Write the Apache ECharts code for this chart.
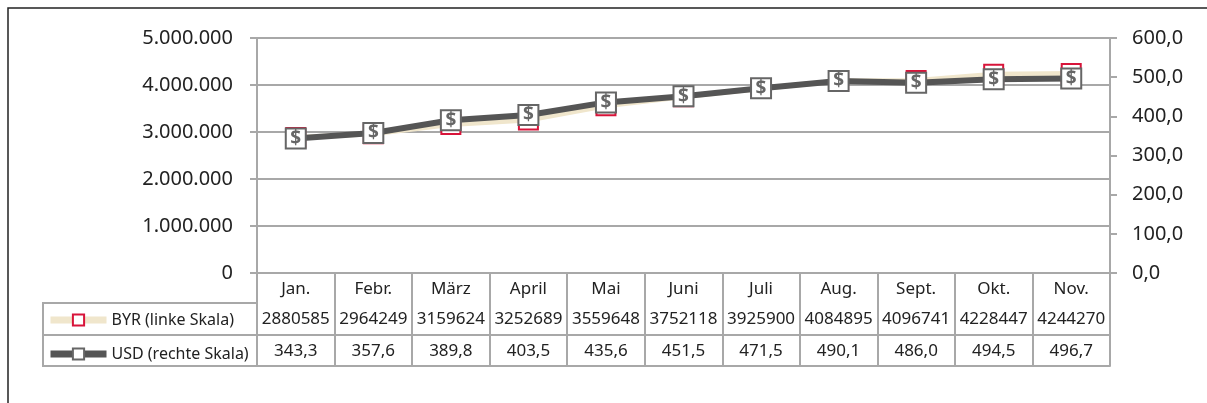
<!DOCTYPE html>
<html>
<head>
<meta charset="utf-8">
<script src="https://cdn.jsdelivr.net/npm/echarts@6/dist/echarts.min.js"></script>
<style>
  html, body { margin: 0; padding: 0; background: #fff; }
  #chart { width: 1207px; height: 403px; }
</style>
</head>
<body>
<div id="chart"></div>
<script>
// Daten
const months = ["Jan.", "Febr.", "März", "April", "Mai", "Juni", "Juli", "Aug.", "Sept.", "Okt.", "Nov."];
const byr = [2880585, 2964249, 3159624, 3252689, 3559648, 3752118, 3925900, 4084895, 4096741, 4228447, 4244270];
const usd = [343.3, 357.6, 389.8, 403.5, 435.6, 451.5, 471.5, 490.1, 486.0, 494.5, 496.7];

const font = "'Noto Sans', sans-serif";
const gridGray = "#a8a8a8";
const textColor = "#222";
const byrColor = "#f0e6cc";
const usdColor = "#555";

const fmtLeft = (v) => String(v).replace(/\B(?=(\d{3})+(?!\d))/g, ".");
const fmtRight = (v) => v.toFixed(1).replace(".", ",");

let chart = echarts.init(document.getElementById("chart"));

// Zeilen der Datentabelle als zusätzliche Kategorieachsen
const tableRow = (data, offset) => ({
  type: "category",
  position: "bottom",
  offset: offset,
  data: data,
  axisLine: { show: true, lineStyle: { color: gridGray, width: 2 } },
  axisTick: { show: false },
  axisLabel: { margin: 8, fontSize: 17, color: textColor, fontFamily: font, interval: 0 },
});

let option = {
  animation: false,
  textStyle: { fontFamily: font },
  grid: { left: 257, right: 97, top: 38, bottom: 130, containLabel: false },
  legend: {
    orient: "vertical",
    left: 42,
    top: 307,
    padding: 5,
    itemWidth: 56,
    itemHeight: 14,
    itemGap: 18,
    textStyle: { fontSize: 16, color: textColor, fontFamily: font },
    data: [
      { name: "BYR (linke Skala)", lineStyle: { width: 7, color: byrColor } },
      { name: "USD (rechte Skala)", lineStyle: { width: 7, color: usdColor } },
    ],
  },
  xAxis: [
    {
      type: "category",
      data: months,
      boundaryGap: true,
      axisLine: { lineStyle: { color: gridGray, width: 2 } },
      axisTick: { show: true, length: 93, lineStyle: { color: gridGray, width: 2 } },
      axisLabel: { margin: 8, fontSize: 17, color: textColor, fontFamily: font, interval: 0 },
    },
    tableRow(byr.map(String), 30),
    tableRow(usd.map(fmtRight), 62),
    Object.assign(tableRow(months.map(() => ""), 93), { axisLabel: { show: false } }),
  ],
  yAxis: [
    {
      type: "value",
      min: 0,
      max: 5000000,
      interval: 1000000,
      axisLine: { show: true, lineStyle: { color: gridGray, width: 2 } },
      axisTick: { show: true, length: 7, lineStyle: { color: gridGray, width: 2 } },
      splitLine: { lineStyle: { color: gridGray, width: 2 } },
      axisLabel: { margin: 24, fontSize: 20, color: textColor, fontFamily: font, formatter: fmtLeft },
    },
    {
      type: "value",
      min: 0,
      max: 600,
      interval: 100,
      position: "right",
      axisLine: { show: true, lineStyle: { color: gridGray, width: 2 } },
      axisTick: { show: true, length: 7, lineStyle: { color: gridGray, width: 2 } },
      splitLine: { show: false },
      axisLabel: { margin: 22, fontSize: 20, color: textColor, fontFamily: font, formatter: fmtRight },
    },
  ],
  series: [
    {
      name: "BYR (linke Skala)",
      type: "line",
      yAxisIndex: 0,
      data: byr,
      symbol: "rect",
      symbolSize: 19,
      lineStyle: { color: byrColor, width: 5 },
      itemStyle: { color: "#fff", borderColor: "#d8143a", borderWidth: 2 },
      z: 2,
    },
    {
      name: "USD (rechte Skala)",
      type: "line",
      yAxisIndex: 1,
      data: usd,
      symbol: "rect",
      symbolSize: 20,
      lineStyle: { color: usdColor, width: 6 },
      itemStyle: { color: "#fff", borderColor: "#666", borderWidth: 2 },
      label: {
        show: true,
        position: "inside",
        formatter: "$",
        fontSize: 19,
        fontWeight: "bold",
        color: "#666",
        fontFamily: font,
      },
      z: 3,
    },
  ],
  graphic: [
    // äußerer Rahmen
    {
      type: "rect",
      shape: { x: 8, y: 8, width: 1300, height: 500 },
      style: { fill: "none", stroke: "#222", lineWidth: 1.5 },
      silent: true,
    },
    // Legendenspalte der Tabelle
    {
      type: "rect",
      shape: { x: 43, y: 303, width: 214, height: 63 },
      style: { fill: "none", stroke: gridGray, lineWidth: 2 },
      silent: true,
    },
    {
      type: "line",
      shape: { x1: 43, y1: 335, x2: 257, y2: 335 },
      style: { stroke: gridGray, lineWidth: 2 },
      silent: true,
    },
  ],
};
chart.setOption(option);
</script>
</body>
</html>
